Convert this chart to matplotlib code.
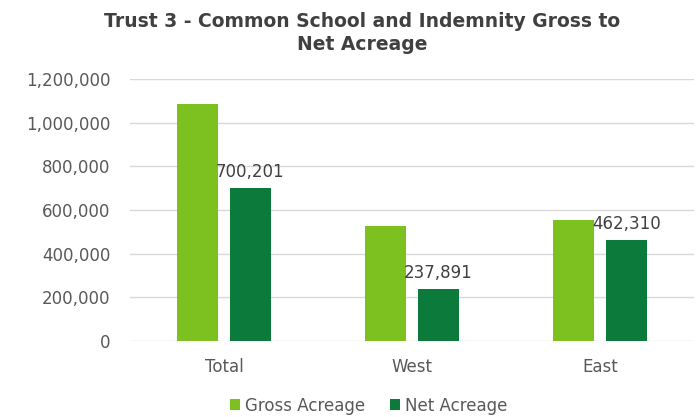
import matplotlib.pyplot as plt
import numpy as np
from matplotlib.ticker import FuncFormatter

categories = ['Total', 'West', 'East']
gross_acreage = [1085000, 527000, 555000]
net_acreage = [700201, 237891, 462310]
series_names = ['Gross Acreage', 'Net Acreage']

gross_color = '#7cc11f'
net_color = '#0b7a3b'
text_color = '#595959'

fig = plt.figure(figsize=(6.96, 4.17), dpi=100)
ax = fig.add_axes([0.187, 0.182, 0.81, 0.629])

x = np.arange(len(categories))
w = 0.22
ax.bar(x - 0.14, gross_acreage, w, color=gross_color, label=series_names[0], zorder=2)
bars = ax.bar(x + 0.14, net_acreage, w, color=net_color, label=series_names[1], zorder=2)

# etiquetas solo en las barras netas
for b, v in zip(bars, net_acreage):
    ax.annotate(f'{v:,}', (b.get_x() + b.get_width() / 2, v),
                xytext=(0, 5), textcoords='offset points',
                ha='center', va='bottom', fontsize=12, color='#404040')

ax.set_xlim(-0.5, 2.5)
ax.set_ylim(0, 1200000)
ax.set_yticks(np.arange(0, 1200001, 200000))
ax.yaxis.set_major_formatter(FuncFormatter(lambda v, p: f'{int(v):,}'))
ax.set_xticks(x)
ax.set_xticklabels(categories)
ax.tick_params(axis='both', length=0, labelsize=12, colors=text_color)
ax.tick_params(axis='y', pad=14)
ax.tick_params(axis='x', pad=12)
ax.grid(axis='y', color='#d9d9d9', linewidth=1, zorder=0)
for s in ax.spines.values():
    s.set_visible(False)

fig.text(0.52, 0.972, 'Trust 3 - Common School and Indemnity Gross to\nNet Acreage',
         ha='center', va='top', fontsize=13.5, fontweight='bold', color='#404040',
         linespacing=1.3)

fig.legend(loc='lower center', bbox_to_anchor=(0.53, -0.03), ncol=2, frameon=False,
           fontsize=12, handlelength=0.6, handleheight=0.6, handletextpad=0.3,
           columnspacing=1.5, labelcolor=text_color)

plt.savefig('out.png', dpi=100)
